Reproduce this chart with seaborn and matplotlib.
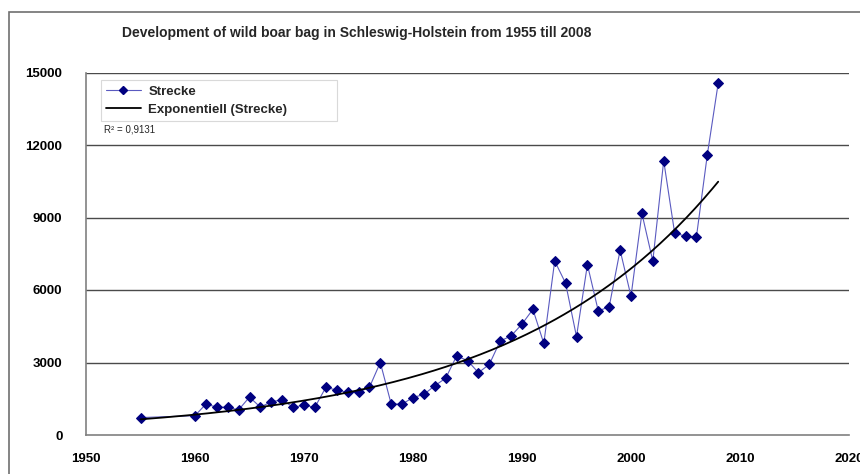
import numpy as np
import pandas as pd
import matplotlib
matplotlib.use("Agg")
import matplotlib.pyplot as plt
from matplotlib.patches import Rectangle
from matplotlib.lines import Line2D
import seaborn as sns

# Annual wild boar bag (Strecke), Schleswig-Holstein
years = [1955, 1960, 1961, 1962, 1963, 1964, 1965, 1966, 1967, 1968, 1969,
         1970, 1971, 1972, 1973, 1974, 1975, 1976, 1977, 1978, 1979, 1980,
         1981, 1982, 1983, 1984, 1985, 1986, 1987, 1988, 1989, 1990, 1991,
         1992, 1993, 1994, 1995, 1996, 1997, 1998, 1999, 2000, 2001, 2002,
         2003, 2004, 2005, 2006, 2007, 2008]
strecke = [720, 800, 1280, 1150, 1150, 1040, 1570, 1150, 1380, 1450, 1150,
           1230, 1150, 1970, 1860, 1770, 1770, 1970, 3000, 1280, 1280, 1550,
           1680, 2040, 2350, 3270, 3080, 2580, 2920, 3890, 4100, 4590, 5200,
           3790, 7200, 6280, 4070, 7050, 5130, 5310, 7650, 5740, 9170, 7200,
           11350, 8370, 8220, 8190, 11590, 14560]

x_ticks = [1950, 1960, 1970, 1980, 1990, 2000, 2010, 2020]
y_ticks = [0, 3000, 6000, 9000, 12000, 15000]
title = "Development of wild boar bag in Schleswig-Holstein from 1955 till 2008"
r2_label = "R² = 0,9131"

df = pd.DataFrame({"Jahr": years, "Strecke": strecke})

# Exponential trend y = a*exp(b*x), least squares on ln(y)
b, ln_a = np.polyfit(df["Jahr"], np.log(df["Strecke"]), 1)
trend = pd.DataFrame({"Jahr": np.linspace(years[0], years[-1], 200)})
trend["Strecke"] = np.exp(ln_a + b * trend["Jahr"])

sns.set_theme(style="white")
plt.rcParams["font.family"] = ["Liberation Sans", "DejaVu Sans"]

W, H = 860, 474
x0, x1, y_top, y_bot = 86, 849, 72.5, 435
fig = plt.figure(figsize=(W / 100, H / 100), dpi=100)
ax = fig.add_axes([x0 / W, 1 - y_bot / H, (x1 - x0) / W, (y_bot - y_top) / H])

line_col = "#5a5ac0"
mark_col = "#000080"

sns.lineplot(data=df, x="Jahr", y="Strecke", ax=ax, color=line_col,
             linewidth=0.8, marker="D", markersize=4.6,
             markerfacecolor=mark_col, markeredgecolor=mark_col, zorder=3)
sns.lineplot(data=trend, x="Jahr", y="Strecke", ax=ax, color="black",
             linewidth=1.3, zorder=4)

ax.set_xlim(1950, 2020)
ax.set_ylim(0, 15000)
ax.set_xticks(x_ticks)
ax.set_yticks(y_ticks)
ax.set_xlabel("")
ax.set_ylabel("")
ax.grid(False)
for yv in y_ticks[1:]:
    ax.axhline(yv, color="#4a4a4a", linewidth=1.0, zorder=1)

for side in ["top", "right"]:
    ax.spines[side].set_visible(False)
for side in ["left", "bottom"]:
    ax.spines[side].set_color("#808080")
    ax.spines[side].set_linewidth(1.2)

ax.tick_params(axis="both", which="major", direction="out", length=5,
               width=1, color="#808080", labelsize=9.5)
ax.tick_params(axis="x", pad=8)
ax.tick_params(axis="y", pad=12)
for lab in ax.get_xticklabels() + ax.get_yticklabels():
    lab.set_fontweight("bold")
    lab.set_color("black")

# Legend box spanning the upper left of the plot area
handles = [
    Line2D([], [], color=line_col, linewidth=0.8, marker="D", markersize=3.6,
           markerfacecolor=mark_col, markeredgecolor=mark_col),
    Line2D([], [], color="black", linewidth=1.3),
]
pw, ph = x1 - x0, y_bot - y_top
lx, lw = (101 - x0) / pw, (337 - 101) / pw
ly_top, lh = 1 - (80 - y_top) / ph, (123 - 80) / ph
leg = ax.legend(handles, ["Strecke", "Exponentiell (Strecke)"],
                loc="upper left", mode="expand",
                bbox_to_anchor=(lx, ly_top - lh, lw, lh),
                frameon=True, fancybox=False, borderpad=0.4, labelspacing=0.45,
                handlelength=2.6, handletextpad=0.6, borderaxespad=0,
                prop={"weight": "bold", "size": 9.5})
leg.get_frame().set_edgecolor("#d0d0d0")
leg.get_frame().set_linewidth(0.8)

fig.text(104 / W, 1 - 130 / H, r2_label, fontsize=7, va="center", ha="left")

fig.text(122 / W, 1 - 33 / H, title, fontsize=10, fontweight="bold",
         va="center", ha="left")

# Chart area border
fig.add_artist(Rectangle((9 / W, -0.05), 1.0, 1.05 - 12 / H,
                         transform=fig.transFigure, fill=False,
                         edgecolor="#707070", linewidth=1.2, clip_on=False))

fig.savefig("out.png", dpi=100, facecolor="white")
